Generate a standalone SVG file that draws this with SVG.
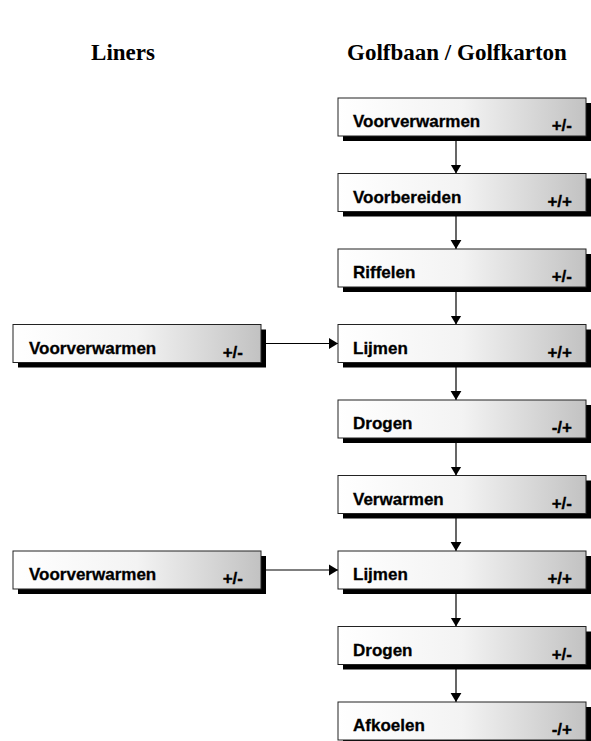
<svg xmlns="http://www.w3.org/2000/svg" width="591" height="741" viewBox="0 0 591 741">
<style>
.hdr{font-family:"Liberation Serif","Times New Roman",serif;font-weight:bold;font-size:23px;fill:#000;text-anchor:middle}
.lbl{font-family:"Liberation Sans",Arial,sans-serif;font-weight:bold;font-size:17px;fill:#000;stroke:#000;stroke-width:0.3}
.sgn{font-family:"Liberation Sans",Arial,sans-serif;font-weight:bold;font-size:17px;fill:#000;stroke:#000;stroke-width:0.3;text-anchor:end}
.box{fill:url(#g);stroke:#222;stroke-width:1}
.sh{fill:#000}
.con{stroke:#000;stroke-width:1.2;fill:none;marker-end:url(#ah)}
</style>
<defs>
<linearGradient id="g" x1="0" y1="0" x2="1" y2="0">
<stop offset="0" stop-color="#ffffff"/>
<stop offset="0.5" stop-color="#f3f3f3"/>
<stop offset="1" stop-color="#c2c2c2"/>
</linearGradient>
<marker id="ah" viewBox="0 0 10 12" refX="10" refY="6" markerWidth="9" markerHeight="12" markerUnits="userSpaceOnUse" orient="auto">
<path d="M0,0 L10,6 L0,12 z" fill="#000"/>
</marker>
</defs>
<rect width="591" height="741" fill="#fff"/>
<text class="hdr" x="123" y="60">Liners</text>
<text class="hdr" x="457" y="60">Golfbaan / Golfkarton</text>

<g id="connectors">
<line class="con" x1="456" y1="136" x2="456" y2="173.5"/>
<line class="con" x1="456" y1="211.5" x2="456" y2="249"/>
<line class="con" x1="456" y1="287" x2="456" y2="324.5"/>
<line class="con" x1="456" y1="362.5" x2="456" y2="400"/>
<line class="con" x1="456" y1="438" x2="456" y2="475.5"/>
<line class="con" x1="456" y1="513.5" x2="456" y2="551"/>
<line class="con" x1="456" y1="589" x2="456" y2="626.5"/>
<line class="con" x1="456" y1="664.5" x2="456" y2="702"/>
<line class="con" x1="266" y1="343.5" x2="338" y2="343.5"/>
<line class="con" x1="266" y1="570" x2="338" y2="570"/>
</g>

<g id="r1"><rect class="sh" x="343" y="103" width="248" height="38"/><rect class="box" x="338" y="98" width="248" height="38"/><text class="lbl" x="353" y="127">Voorverwarmen</text><text class="sgn" x="572" y="131">+/-</text></g>
<g id="r2"><rect class="sh" x="343" y="178.5" width="248" height="38"/><rect class="box" x="338" y="173.5" width="248" height="38"/><text class="lbl" x="353" y="202.5">Voorbereiden</text><text class="sgn" x="572" y="206.5">+/+</text></g>
<g id="r3"><rect class="sh" x="343" y="254" width="248" height="38"/><rect class="box" x="338" y="249" width="248" height="38"/><text class="lbl" x="353" y="278">Riffelen</text><text class="sgn" x="572" y="282">+/-</text></g>
<g id="r4"><rect class="sh" x="343" y="329.5" width="248" height="38"/><rect class="box" x="338" y="324.5" width="248" height="38"/><text class="lbl" x="353" y="353.5">Lijmen</text><text class="sgn" x="572" y="357.5">+/+</text></g>
<g id="r5"><rect class="sh" x="343" y="405" width="248" height="38"/><rect class="box" x="338" y="400" width="248" height="38"/><text class="lbl" x="353" y="429">Drogen</text><text class="sgn" x="572" y="433">-/+</text></g>
<g id="r6"><rect class="sh" x="343" y="480.5" width="248" height="38"/><rect class="box" x="338" y="475.5" width="248" height="38"/><text class="lbl" x="353" y="504.5">Verwarmen</text><text class="sgn" x="572" y="508.5">+/-</text></g>
<g id="r7"><rect class="sh" x="343" y="556" width="248" height="38"/><rect class="box" x="338" y="551" width="248" height="38"/><text class="lbl" x="353" y="580">Lijmen</text><text class="sgn" x="572" y="584">+/+</text></g>
<g id="r8"><rect class="sh" x="343" y="631.5" width="248" height="38"/><rect class="box" x="338" y="626.5" width="248" height="38"/><text class="lbl" x="353" y="655.5">Drogen</text><text class="sgn" x="572" y="659.5">+/-</text></g>
<g id="r9"><rect class="sh" x="343" y="707" width="248" height="38"/><rect class="box" x="338" y="702" width="248" height="38"/><text class="lbl" x="353" y="731">Afkoelen</text><text class="sgn" x="572" y="735">-/+</text></g>

<g id="l1"><rect class="sh" x="18" y="329.5" width="248" height="38"/><rect class="box" x="13" y="324.5" width="248" height="38"/><text class="lbl" x="29" y="353.5">Voorverwarmen</text><text class="sgn" x="243" y="357.5">+/-</text></g>
<g id="l2"><rect class="sh" x="18" y="556" width="248" height="38"/><rect class="box" x="13" y="551" width="248" height="38"/><text class="lbl" x="29" y="580">Voorverwarmen</text><text class="sgn" x="243" y="584">+/-</text></g>
</svg>
